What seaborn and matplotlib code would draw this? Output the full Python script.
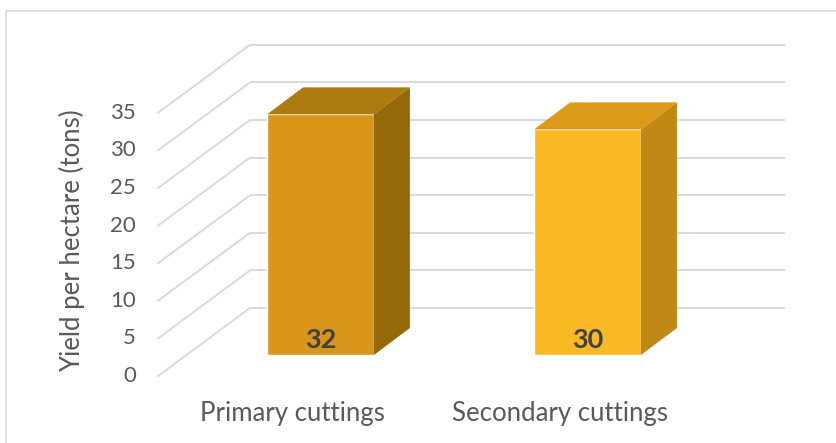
import numpy as np
import pandas as pd
import matplotlib
matplotlib.use("Agg")
import matplotlib.pyplot as plt
from matplotlib.patches import Polygon
import seaborn as sns

# ---- data ----
categories = ["Primary cuttings", "Secondary cuttings"]
yields = [32, 30]
y_ticks = [0, 5, 10, 15, 20, 25, 30, 35]
y_label = "Yield per hectare (tons)"

# ---- styles ----
front_colors = ["#D9961A", "#F9B922"]
top_colors = ["#AD7A0F", "#DB9A17"]
side_colors = ["#94690A", "#C08915"]
grid_color = "#D9D9D9"
text_color = "#595959"
label_color = "#404040"

sns.set_theme(style="white")
plt.rcParams["font.family"] = ["Lato", "DejaVu Sans"]

W, H = 836, 443
fig = plt.figure(figsize=(W / 100, H / 100), dpi=100)
ax = fig.add_axes([0, 0, 1, 1])

# pixel geometry of the 3-D projection
PX = 267.0      # pixels per category step
PY = 7.52       # pixels per value unit
X0 = 320.5      # pixel x of first category centre (bar plane)
Y0 = 355.0      # pixel y of value 0 (bar plane)

def dx(p):  # pixel x-offset -> data
    return p / PX

def dy(p):  # pixel y-offset (up positive) -> data
    return p / PY

df = pd.DataFrame({"category": categories, "yield": yields})
sns.barplot(data=df, x="category", y="yield", hue="category",
            palette=front_colors, width=0.4, saturation=1,
            legend=False, ax=ax, zorder=3)

ax.set_xlim(-X0 / PX, (W - X0) / PX)
ax.set_ylim((Y0 - H) / PY, Y0 / PY)
ax.axis("off")

# depth offsets (pixels, right / up)
bar_d = (36, 27)
front_off = (-28, -21)
back_off = (64, 47)

# back wall gridlines and left wall diagonals
x_back_left = dx(250 - X0)
x_back_right = dx(785 - X0)
x_front_left = dx(158 - X0)
for t in y_ticks:
    yb = t + dy(back_off[1])
    yf = t + dy(front_off[1])
    ax.plot([x_back_left, x_back_right], [yb, yb], color=grid_color,
            lw=1.4, zorder=1, solid_capstyle="butt")
    ax.plot([x_front_left, x_back_left], [yf, yb], color=grid_color,
            lw=1.4, zorder=1)
    ax.text(dx(136 - X0), yf, str(t), ha="right", va="center",
            fontsize=16, color=text_color)

# 3-D faces on bars
for i, patch in enumerate(ax.patches[:len(yields)]):
    x0 = patch.get_x()
    x1 = x0 + patch.get_width()
    v = patch.get_height()
    ddx, ddy = dx(bar_d[0]), dy(bar_d[1])
    top = Polygon([(x0, v), (x1, v), (x1 + ddx, v + ddy), (x0 + ddx, v + ddy)],
                  closed=True, facecolor=top_colors[i], edgecolor="none", zorder=4)
    side = Polygon([(x1, 0), (x1, v), (x1 + ddx, v + ddy), (x1 + ddx, ddy)],
                   closed=True, facecolor=side_colors[i], edgecolor="none", zorder=4)
    ax.add_patch(top)
    ax.add_patch(side)
    xc = x0 + patch.get_width() / 2
    ax.text(xc, dy(Y0 - 340), f"{v:.0f}", ha="center", va="center",
            fontsize=19.5, fontweight="bold", color=label_color, zorder=5)
    ax.text(xc + dx(front_off[0]), dy(Y0 - 413), categories[i], ha="center",
            va="center", fontsize=18.5, color=text_color)

ax.text(dx(72 - X0), dy(Y0 - 241), y_label, rotation=90, ha="center",
        va="center", fontsize=18.5, color=text_color)

# chart border
ax.plot([dx(6 - X0), dx(W - X0)], [dy(Y0 - 11)] * 2, color=grid_color, lw=1.2,
        zorder=0, clip_on=False)
ax.plot([dx(6 - X0)] * 2, [dy(Y0 - 11), dy(Y0 - H)], color=grid_color, lw=1.2,
        zorder=0, clip_on=False)

fig.savefig("out.png", dpi=100)
